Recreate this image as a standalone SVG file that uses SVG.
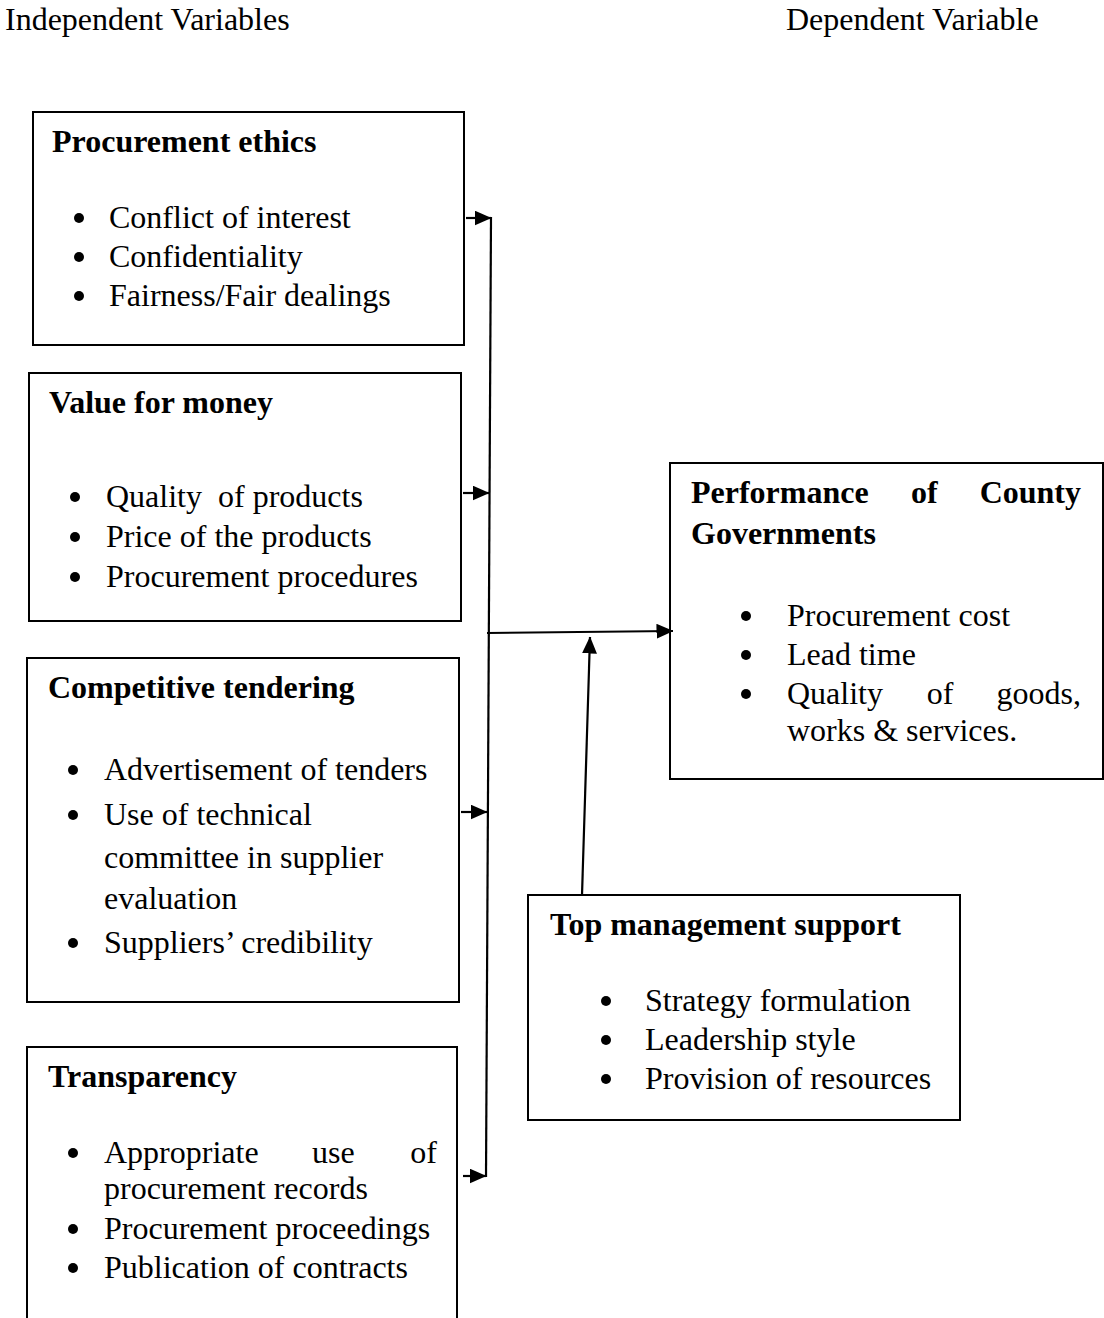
<svg xmlns="http://www.w3.org/2000/svg" width="1104" height="1318" viewBox="0 0 1104 1318">
  <style>
    text { font-family: "Liberation Serif", "Times New Roman", serif; font-size: 32px; fill: #000; }
    .h { font-weight: bold; }
    .box { fill: none; stroke: #000; stroke-width: 2; }
    .dot { fill: #000; }
    .link { fill: none; stroke: #000; stroke-width: 2.2; }
  </style>
  <defs>
    <marker id="arrow" viewBox="0 0 17 15" refX="16.5" refY="7.5" markerWidth="17" markerHeight="15" markerUnits="userSpaceOnUse" orient="auto">
      <path d="M0,0 L17,7.5 L0,15 z" fill="#000"/>
    </marker>
  </defs>

  <!-- column headings -->
  <g id="headings">
    <text x="5" y="30">Independent Variables</text>
    <text x="786" y="30">Dependent Variable</text>
  </g>

  <!-- independent variables -->
  <g id="procurement-ethics">
    <rect class="box" x="33" y="112" width="431" height="233"/>
    <text class="h" x="52" y="152">Procurement ethics</text>
    <circle class="dot" cx="79" cy="218" r="5"/>
    <text x="109" y="228">Conflict of interest</text>
    <circle class="dot" cx="79" cy="257" r="5"/>
    <text x="109" y="267">Confidentiality</text>
    <circle class="dot" cx="79" cy="296" r="5"/>
    <text x="109" y="306">Fairness/Fair dealings</text>
  </g>

  <g id="value-for-money">
    <rect class="box" x="29" y="373" width="432" height="248"/>
    <text class="h" x="49" y="413">Value for money</text>
    <circle class="dot" cx="75" cy="497" r="5"/>
    <text x="106" y="507" xml:space="preserve">Quality  of products</text>
    <circle class="dot" cx="75" cy="537" r="5"/>
    <text x="106" y="547">Price of the products</text>
    <circle class="dot" cx="75" cy="577" r="5"/>
    <text x="106" y="587">Procurement procedures</text>
  </g>

  <g id="competitive-tendering">
    <rect class="box" x="27" y="658" width="432" height="344"/>
    <text class="h" x="48" y="698">Competitive tendering</text>
    <circle class="dot" cx="73" cy="770" r="5"/>
    <text x="104" y="780">Advertisement of tenders</text>
    <circle class="dot" cx="73" cy="815" r="5"/>
    <text x="104" y="825">Use of technical</text>
    <text x="104" y="868">committee in supplier</text>
    <text x="104" y="909">evaluation</text>
    <circle class="dot" cx="73" cy="943" r="5"/>
    <text x="104" y="953">Suppliers’ credibility</text>
  </g>

  <g id="transparency">
    <path class="box" d="M27,1330 V1047 H457 V1330"/>
    <text class="h" x="48" y="1087">Transparency</text>
    <circle class="dot" cx="73" cy="1153" r="5"/>
    <text x="104" y="1163">Appropriate</text>
    <text x="312" y="1163">use</text>
    <text x="437" y="1163" text-anchor="end">of</text>
    <text x="104" y="1199">procurement records</text>
    <circle class="dot" cx="73" cy="1229" r="5"/>
    <text x="104" y="1239">Procurement proceedings</text>
    <circle class="dot" cx="73" cy="1268" r="5"/>
    <text x="104" y="1278">Publication of contracts</text>
  </g>

  <!-- dependent variable -->
  <g id="county-performance">
    <rect class="box" x="670" y="463" width="433" height="316"/>
    <text class="h" x="691" y="503">Performance</text>
    <text class="h" x="911" y="503">of</text>
    <text class="h" x="1081" y="503" text-anchor="end">County</text>
    <text class="h" x="691" y="544">Governments</text>
    <circle class="dot" cx="746" cy="616" r="5"/>
    <text x="787" y="626">Procurement cost</text>
    <circle class="dot" cx="746" cy="655" r="5"/>
    <text x="787" y="665">Lead time</text>
    <circle class="dot" cx="746" cy="694" r="5"/>
    <text x="787" y="704">Quality</text>
    <text x="940" y="704" text-anchor="middle">of</text>
    <text x="1081" y="704" text-anchor="end">goods,</text>
    <text x="787" y="741">works &amp; services.</text>
  </g>

  <!-- intervening variable -->
  <g id="top-management-support">
    <rect class="box" x="528" y="895" width="432" height="225"/>
    <text class="h" x="550" y="935">Top management support</text>
    <circle class="dot" cx="606" cy="1001" r="5"/>
    <text x="645" y="1011">Strategy formulation</text>
    <circle class="dot" cx="606" cy="1040" r="5"/>
    <text x="645" y="1050">Leadership style</text>
    <circle class="dot" cx="606" cy="1079" r="5"/>
    <text x="645" y="1089">Provision of resources</text>
  </g>

  <!-- connectors -->
  <g id="connectors">
    <line class="link" x1="491" y1="217" x2="486" y2="1177"/>
    <line class="link" x1="466" y1="218" x2="491" y2="218" marker-end="url(#arrow)"/>
    <line class="link" x1="463" y1="493" x2="489" y2="493" marker-end="url(#arrow)"/>
    <line class="link" x1="461" y1="812" x2="487" y2="812" marker-end="url(#arrow)"/>
    <line class="link" x1="463" y1="1176" x2="486" y2="1176" marker-end="url(#arrow)"/>
    <line class="link" x1="487" y1="633" x2="673" y2="631" marker-end="url(#arrow)"/>
    <line class="link" x1="582" y1="895" x2="590" y2="637" marker-end="url(#arrow)"/>
  </g>
</svg>
